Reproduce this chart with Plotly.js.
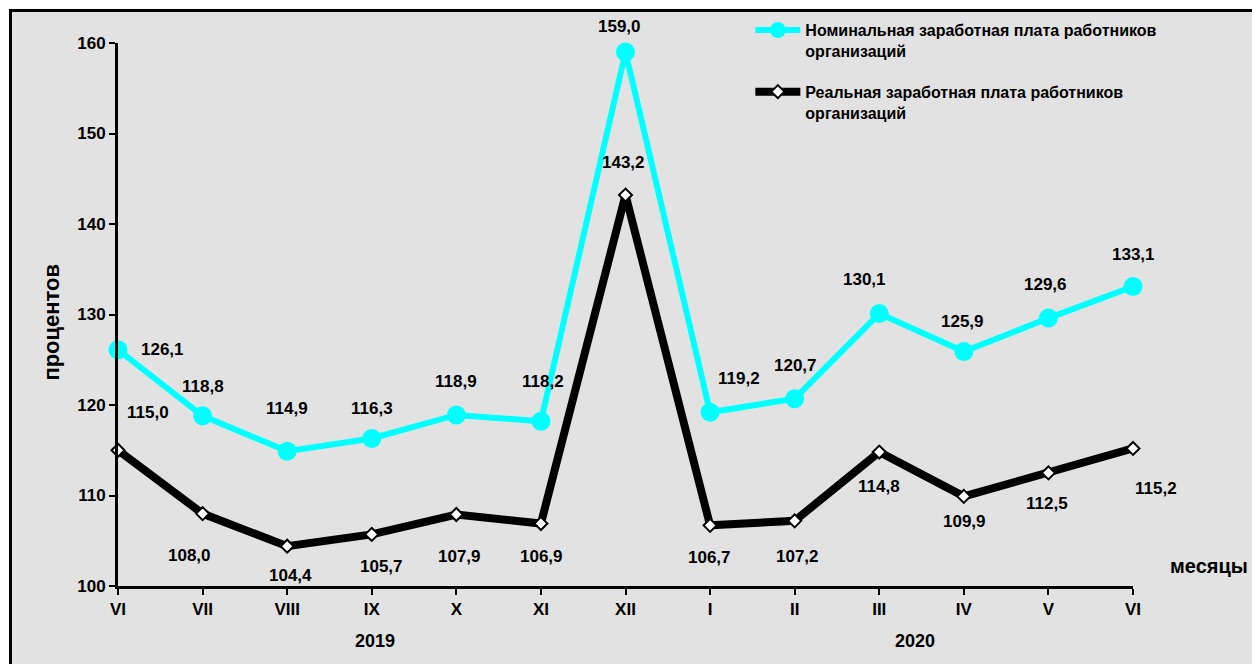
<!DOCTYPE html>
<html>
<head>
<meta charset="utf-8">
<script src="https://cdn.plot.ly/plotly-3.0.1.min.js"></script>
<style>
html,body{margin:0;padding:0;width:1252px;height:664px;overflow:hidden;background:#fff;}
#frame{position:absolute;left:9px;top:9px;width:1260px;height:680px;background:#e2e2e2;border:3px solid #000;box-sizing:border-box;}
#chart{position:absolute;left:0;top:0;width:1252px;height:664px;}
</style>
</head>
<body>
<div id="frame"></div>
<div id="chart"></div>
<script>
const months = ["VI","VII","VIII","IX","X","XI","XII","I","II","III","IV","V","VI"];
const nominal = [126.1,118.8,114.9,116.3,118.9,118.2,159.0,119.2,120.7,130.1,125.9,129.6,133.1];
const real = [115.0,108.0,104.4,105.7,107.9,106.9,143.2,106.7,107.2,114.8,109.9,112.5,115.2];
const nominalName = "Номинальная заработная плата работников<br>организаций";
const realName = "Реальная заработная плата работников<br>организаций";
const years = ["2019","2020"];

// label offsets in px (styling)
const nomDx = [44,0,0,0,0,2,-6,29,1,-15,-1,-3,0];
const nomDy = [0,-29,-43,-30,-33,-40,-26,-34,-33,-34,-30,-34,-32];
const realDx = [30,-13,3,10,3,1,-2,-1,3,0,1,-1,23];
const realDy = [-38,42,29,32,42,33,-33,32,36,34,25,31,40];

const FONT = "Liberation Sans, Arial, sans-serif";
const xs = months.map((m,i)=>i);
const fmt = v => v.toFixed(1).replace('.', ',');

const traces = [
  {x: xs, y: nominal, name: nominalName, legendgroup:'a', type:'scatter', mode:'lines+markers',
   line:{color:'#00ffff', width:6}, marker:{symbol:'circle', size:19, color:'#00ffff'}, cliponaxis:false},
  {x: xs, y: real, name: realName, legendgroup:'b', type:'scatter', mode:'lines+markers',
   line:{color:'#000000', width:8}, marker:{symbol:'diamond', size:10, color:'#ffffff', line:{color:'#000', width:2}}, cliponaxis:false}
];

const annotations = [];
nominal.forEach((v,i)=>annotations.push({x:i, y:v, xref:'x', yref:'y', text:fmt(v), showarrow:false,
  xshift:nomDx[i], yshift:-nomDy[i], font:{family:FONT, size:17, color:'#000', weight:'bold'}}));
real.forEach((v,i)=>annotations.push({x:i, y:v, xref:'x', yref:'y', text:fmt(v), showarrow:false,
  xshift:realDx[i], yshift:-realDy[i], font:{family:FONT, size:17, color:'#000', weight:'bold'}}));
annotations.push({x:3.04, y:-0.123, xref:'x', yref:'paper', text:years[0], showarrow:false, font:{family:FONT,size:18,color:'#000',weight:'bold'}});
annotations.push({x:9.42, y:-0.123, xref:'x', yref:'paper', text:years[1], showarrow:false, font:{family:FONT,size:18,color:'#000',weight:'bold'}});
annotations.push({x:1.0345, y:0.012, xref:'paper', yref:'paper', xanchor:'left', text:'месяцы', showarrow:false, font:{family:FONT,size:20,color:'#000',weight:'bold'}});
annotations.push({x:-0.0798, y:0.486, xref:'paper', yref:'paper', text:'процентов', textangle:-90, showarrow:false, font:{family:FONT,size:22,color:'#000',weight:'bold'}});

const layout = {
  width:1252, height:664,
  margin:{l:118, r:119, t:43, b:78},
  paper_bgcolor:'rgba(0,0,0,0)', plot_bgcolor:'rgba(0,0,0,0)',
  showlegend:true,
  legend:{x:0.623, y:1.055, xanchor:'left', yanchor:'top', bgcolor:'rgba(0,0,0,0)', valign:'top',
    font:{family:FONT, size:16, color:'#000', weight:'bold'}, itemwidth:45, tracegroupgap:17},
  xaxis:{range:[0,12], tickvals:xs, ticktext:months, showgrid:false, zeroline:false,
    showline:true, linecolor:'#000', linewidth:3, ticks:'outside', ticklen:6, tickwidth:2, tickcolor:'#000',
    tickfont:{family:FONT, size:17, color:'#000', weight:'bold'}},
  yaxis:{range:[100,160], dtick:10, showgrid:false, zeroline:false,
    showline:true, linecolor:'#000', linewidth:3, ticks:'outside', ticklen:6, tickwidth:2, tickcolor:'#000',
    tickfont:{family:FONT, size:17, color:'#000', weight:'bold'}},
  annotations: annotations
};
Plotly.newPlot('chart', traces, layout, {displayModeBar:false, staticPlot:true});
</script>
</body>
</html>
